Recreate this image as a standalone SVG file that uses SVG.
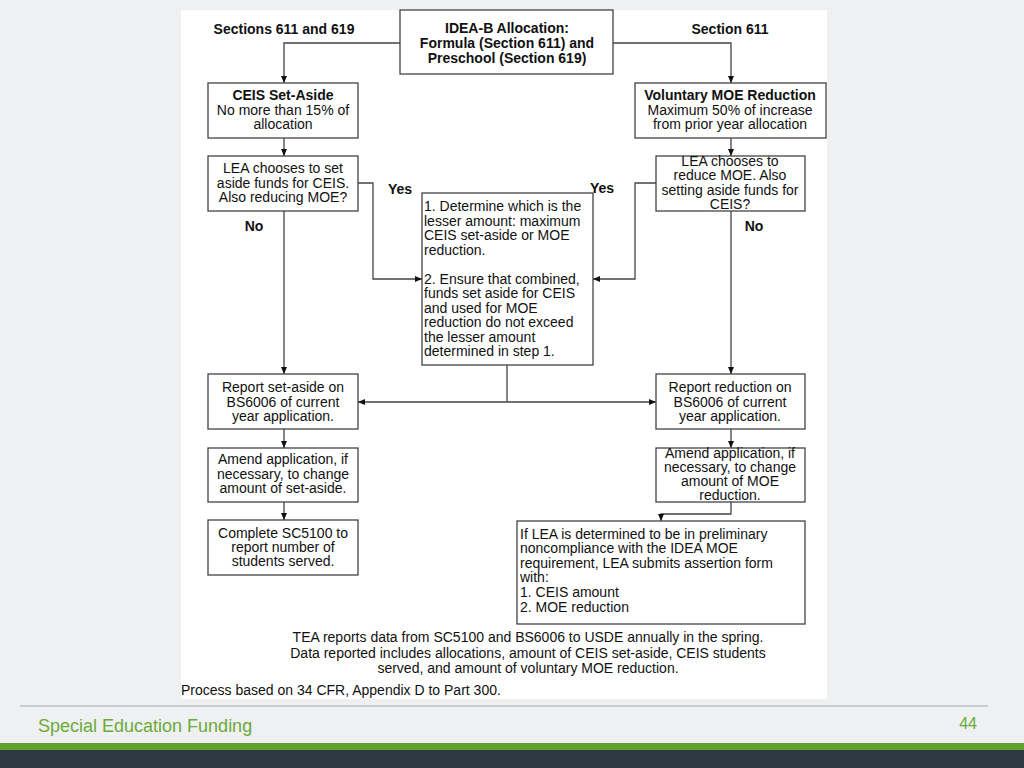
<svg xmlns="http://www.w3.org/2000/svg" width="1024" height="768" viewBox="0 0 1024 768">
<style>
text{font-family:"Liberation Sans",Arial,sans-serif;font-size:14px;fill:#111}
.b{font-weight:bold}
.c{text-anchor:middle}
.box{fill:#fff;stroke:#444;stroke-width:1.3}
.ln{fill:none;stroke:#444;stroke-width:1.3}
.ft{fill:#6aab3a;font-size:18px}
</style>
<defs>
<marker id="ah" markerUnits="userSpaceOnUse" markerWidth="8" markerHeight="8" refX="7" refY="4" orient="auto">
<path d="M0,1 L7,4 L0,7 Z" fill="#111"/>
</marker>
</defs>
<rect x="0" y="0" width="1024" height="768" fill="#eff0f1"/>
<rect x="181" y="10" width="646" height="689" fill="#fff"/>
<g id="connectors">
<path class="ln" d="M400,43 H284 V83" marker-end="url(#ah)"/>
<path class="ln" d="M613,43 H731 V83" marker-end="url(#ah)"/>
<path class="ln" d="M284,138 V156" marker-end="url(#ah)"/>
<path class="ln" d="M731,138 V156" marker-end="url(#ah)"/>
<path class="ln" d="M358,183 H373 V279 H422" marker-end="url(#ah)"/>
<path class="ln" d="M656,183 H635 V279 H593" marker-end="url(#ah)"/>
<path class="ln" d="M284,211 V374" marker-end="url(#ah)"/>
<path class="ln" d="M731,211 V374" marker-end="url(#ah)"/>
<path class="ln" d="M507,365 V402"/>
<path class="ln" d="M507,402 H358" marker-end="url(#ah)"/>
<path class="ln" d="M507,402 H656" marker-end="url(#ah)"/>
<path class="ln" d="M284,429 V448" marker-end="url(#ah)"/>
<path class="ln" d="M284,502 V520" marker-end="url(#ah)"/>
<path class="ln" d="M731,429 V448" marker-end="url(#ah)"/>
<path class="ln" d="M731,502 V514 H661 V521" marker-end="url(#ah)"/>
</g>
<g id="labels">
<text class="b c" x="284" y="34">Sections 611 and 619</text>
<text class="b c" x="730" y="34">Section 611</text>
<text class="b c" x="400" y="194">Yes</text>
<text class="b c" x="254" y="231">No</text>
<text class="b c" x="602" y="193">Yes</text>
<text class="b c" x="754" y="231">No</text>
</g>
<g id="top">
<rect class="box" x="400" y="10" width="213" height="64"/>
<text class="b c" x="507" y="33">IDEA-B Allocation:</text>
<text class="b c" x="507" y="48">Formula (Section 611) and</text>
<text class="b c" x="507" y="63">Preschool (Section 619)</text>
</g>
<g id="ceis">
<rect class="box" x="208" y="83" width="150" height="55"/>
<text class="b c" x="283" y="100">CEIS Set-Aside</text>
<text class="c" x="283" y="115">No more than 15% of</text>
<text class="c" x="283" y="129">allocation</text>
</g>
<g id="moe">
<rect class="box" x="635" y="83" width="191" height="55"/>
<text class="b c" x="730" y="100">Voluntary MOE Reduction</text>
<text class="c" x="730" y="115">Maximum 50% of increase</text>
<text class="c" x="730" y="129">from prior year allocation</text>
</g>
<g id="lea-left">
<rect class="box" x="208" y="156" width="150" height="55"/>
<text class="c" x="283" y="173">LEA chooses to set</text>
<text class="c" x="283" y="188">aside funds for CEIS.</text>
<text class="c" x="283" y="202">Also reducing MOE?</text>
</g>
<g id="lea-right">
<rect class="box" x="656" y="156" width="149" height="55"/>
<text class="c" x="730" y="166">LEA chooses to</text>
<text class="c" x="730" y="180">reduce MOE. Also</text>
<text class="c" x="730" y="195">setting aside funds for</text>
<text class="c" x="730" y="209">CEIS?</text>
</g>
<g id="determine">
<rect class="box" x="422" y="193" width="171" height="172"/>
<text x="424" y="211">1. Determine which is the</text>
<text x="424" y="225.5">lesser amount: maximum</text>
<text x="424" y="240">CEIS set-aside or MOE</text>
<text x="424" y="254.5">reduction.</text>
<text x="424" y="283.5">2. Ensure that combined,</text>
<text x="424" y="298">funds set aside for CEIS</text>
<text x="424" y="312.5">and used for MOE</text>
<text x="424" y="327">reduction do not exceed</text>
<text x="424" y="341.5">the lesser amount</text>
<text x="424" y="356">determined in step 1.</text>
</g>
<g id="report-left">
<rect class="box" x="208" y="374" width="150" height="55"/>
<text class="c" x="283" y="392">Report set-aside on</text>
<text class="c" x="283" y="407">BS6006 of current</text>
<text class="c" x="283" y="421">year application.</text>
</g>
<g id="amend-left">
<rect class="box" x="208" y="448" width="150" height="54"/>
<text class="c" x="283" y="464">Amend application, if</text>
<text class="c" x="283" y="479">necessary, to change</text>
<text class="c" x="283" y="493">amount of set-aside.</text>
</g>
<g id="complete">
<rect class="box" x="208" y="520" width="150" height="55"/>
<text class="c" x="283" y="538">Complete SC5100 to</text>
<text class="c" x="283" y="552">report number of</text>
<text class="c" x="283" y="566">students served.</text>
</g>
<g id="report-right">
<rect class="box" x="656" y="374" width="149" height="55"/>
<text class="c" x="730" y="392">Report reduction on</text>
<text class="c" x="730" y="407">BS6006 of current</text>
<text class="c" x="730" y="421">year application.</text>
</g>
<g id="amend-right">
<rect class="box" x="656" y="448" width="149" height="54"/>
<text class="c" x="730" y="458">Amend application, if</text>
<text class="c" x="730" y="472">necessary, to change</text>
<text class="c" x="730" y="486">amount of MOE</text>
<text class="c" x="730" y="500">reduction.</text>
</g>
<g id="assertion">
<rect class="box" x="517" y="521" width="288" height="103"/>
<text x="520" y="539">If LEA is determined to be in preliminary</text>
<text x="520" y="553">noncompliance with the IDEA MOE</text>
<text x="520" y="568">requirement, LEA submits assertion form</text>
<text x="520" y="582">with:</text>
<text x="520" y="597">1. CEIS amount</text>
<text x="520" y="612">2. MOE reduction</text>
</g>
<g id="notes">
<text class="c" x="528" y="642">TEA reports data from SC5100 and BS6006 to USDE annually in the spring.</text>
<text class="c" x="528" y="658">Data reported includes allocations, amount of CEIS set-aside, CEIS students</text>
<text class="c" x="528" y="673">served, and amount of voluntary MOE reduction.</text>
<text x="181" y="695">Process based on 34 CFR, Appendix D to Part 300.</text>
</g>
<g id="footer">
<line x1="20" y1="706" x2="988" y2="706" stroke="#a8a9aa" stroke-width="1"/>
<text class="ft" x="38" y="732">Special Education Funding</text>
<text class="ft" x="977" y="729" text-anchor="end" style="font-size:16px">44</text>
<rect x="0" y="743" width="1024" height="8" fill="#5fa232"/>
<rect x="0" y="750" width="1024" height="18" fill="#2e3a43"/>
</g>
</svg>
